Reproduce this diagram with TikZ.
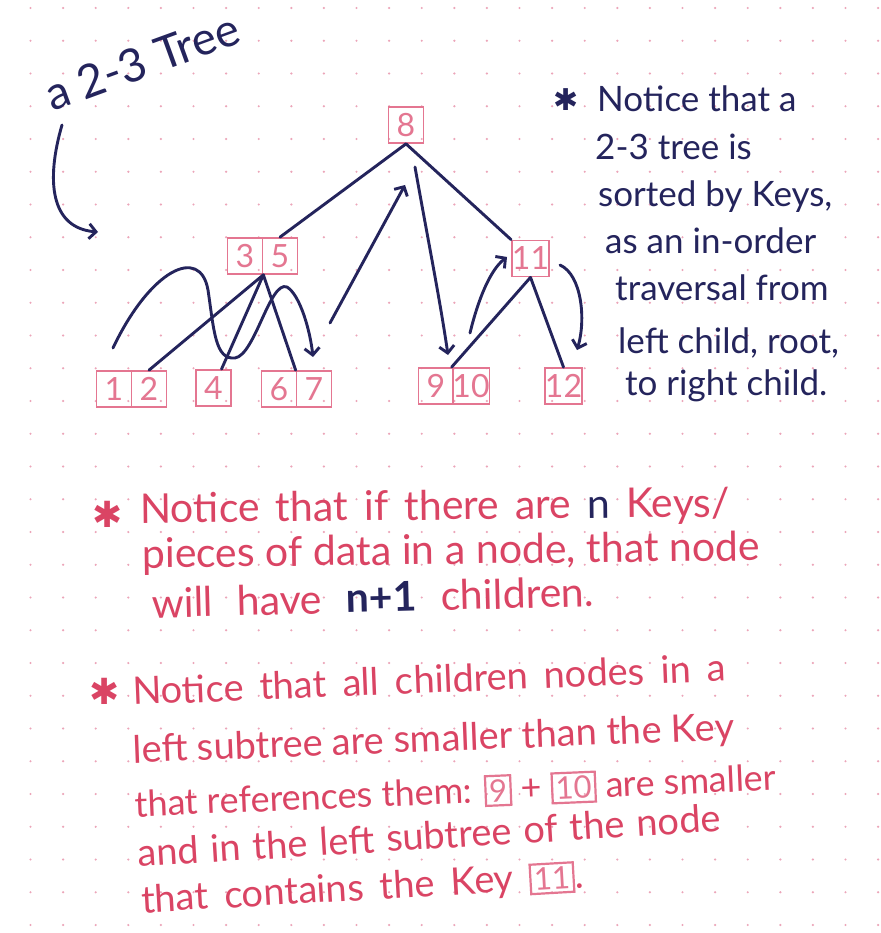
\documentclass[tikz,border=0pt]{standalone}
\usepackage{fontspec}
\setmainfont{Lato}
\newfontfamily\symfont{DejaVu Sans}
\usetikzlibrary{arrows.meta}
\definecolor{navy}{RGB}{36,36,92}
\definecolor{keypink}{RGB}{228,118,145}
\definecolor{inkred}{RGB}{218,68,100}
\definecolor{dotpink}{RGB}{236,165,185}
\newcommand\keyb[1]{{\color{keypink}\setlength\fboxsep{2.5pt}\setlength\fboxrule{2.2pt}\fbox{\fontsize{31}{31}\selectfont #1}}}
\newcommand\wsp[1]{\spaceskip=#1\relax}
\begin{document}
\begin{tikzpicture}[x=1pt,y=-1pt,
  cell/.style={draw=keypink, line width=1.7pt, text=keypink, minimum width=35pt, minimum height=36pt, inner sep=0pt, font=\fontsize{32}{32}\selectfont},
  edge/.style={navy, line width=2.9pt, line cap=round},
  trav/.style={navy, line width=2.9pt, line cap=round, line join=round, -{Straight Barb[length=7pt,width=15pt]}},
  redtxt/.style={text=inkred, font=\fontsize{41}{44}\selectfont, anchor=base west, inner sep=0pt},
  redtxtb/.style={text=inkred, font=\fontsize{38}{44}\selectfont, anchor=base west, inner sep=0pt},
  navytxt/.style={text=navy, font=\fontsize{35}{40}\selectfont, anchor=base west, inner sep=0pt},
  astnavy/.style={text=navy, font=\symfont\fontsize{30}{30}\selectfont, anchor=center, inner sep=0pt},
  astred/.style={text=inkred, font=\symfont\fontsize{36}{36}\selectfont, anchor=center, inner sep=0pt}]
\useasboundingbox (0,0) rectangle (880,933);
\fill[white] (0,0) rectangle (880,933);
% dot grid
\foreach \i in {0,...,26} {
  \foreach \j in {0,...,28} {
    \fill[dotpink] (30.5+32.6*\i, 8+32.75*\j) circle[radius=1.2pt];
  }
}
% title
\node[navytxt, font=\fontsize{46}{48}\selectfont, rotate=20] (title) at (52,112) {a 2-3 Tree};
\coordinate (ta) at (62,125);
\coordinate (tb) at (98,232);
\draw[trav] (ta) .. controls (46,180) and (50,228) .. (tb);
% tree nodes
\node[cell] (n8) at (406,125) {8};
\node[cell] (c3) at (245,256) {3};
\node[cell] (c5) at (280,256) {5};
\node[cell] (n11) at (530.5,258.5) {11};
\node[cell] (c1) at (114,389) {1};
\node[cell] (c2) at (149,389) {2};
\node[cell] (n4) at (213.5,388) {4};
\node[cell] (c6) at (279,389) {6};
\node[cell] (c7) at (314,389) {7};
\node[cell] (c9) at (436,386) {9};
\node[cell] (c10) at (471,386) {10};
\node[cell] (n12) at (563.5,386) {12};
% tree edges
\draw[edge] (n8.south) -- (c5.north);
\draw[edge] (n8.south) -- (n11.north west);
\draw[edge] (c3.south east) -- (c2.north);
\draw[edge] (c3.south east) -- ([xshift=8pt]n4.north);
\draw[edge] (c3.south east) -- (c7.north west);
\draw[edge] (n11.south) -- (c10.north west);
\draw[edge] (n11.south) -- (n12.north);
% traversal arrows
\coordinate (a1s) at (113,348);
\coordinate (a1e) at (313,357);
\draw[trav] (a1s) .. controls (150,270) and (200,245) .. (208,290)
   .. controls (214,330) and (215,360) .. (235,358)
   .. controls (255,355) and (270,280) .. (287,287)
   .. controls (300,295) and (310,330) .. (a1e);
\coordinate (a2s) at (330,323);
\coordinate (a2e) at (405,185);
\draw[trav] (a2s) -- (a2e);
\coordinate (a3s) at (415,167);
\coordinate (a3e) at (448,355);
\draw[trav] (a3s) .. controls (428,240) and (440,300) .. (a3e);
\coordinate (a4s) at (470,333);
\coordinate (a4e) at (507,257);
\draw[trav] (a4s) .. controls (478,300) and (490,270) .. (a4e);
\coordinate (a5s) at (560,265);
\coordinate (a5e) at (577,350);
\draw[trav] (a5s) .. controls (582,275) and (586,320) .. (a5e);
% right navy note
\node[astnavy] (ast0) at (566,100) {✱};
\node[navytxt] (r1) at (597,112) {Notice that a};
\node[navytxt] (r2) at (595,160) {2-3 tree is};
\node[navytxt] (r3) at (598,207) {sorted by Keys,};
\node[navytxt] (r4) at (605,253) {as an in-order};
\node[navytxt] (r5) at (615,300) {traversal from};
\node[navytxt] (r6) at (618,353) {left child, root,};
\node[navytxt] (r7) at (625,395) {to right child.};
% red note 1
\node[astred] (ast1) at (108,514) {✱};
\node[redtxt, rotate=0.6] (p1) at (140,523) {\wsp{16pt}Notice that if there are {\color{navy}n} Keys/};
\node[redtxt, rotate=0.7] (p2) at (142,568) {pieces of data in a node, that node};
\node[redtxt, rotate=1.5] (p3) at (152,618) {\wsp{24pt}will have {\color{navy}\bfseries n+1} children.};
% red note 2
\node[astred] (ast2) at (105,691) {✱};
\node[redtxtb, rotate=2.3] (q1) at (133,705) {\wsp{16pt}Notice that all children nodes in a};
\node[redtxtb, rotate=2.2] (q2) at (133,763) {left subtree are smaller than the Key};
\node[redtxtb, font=\fontsize{36}{44}\selectfont, rotate=2.4] (q3) at (135,817) {that references them: \keyb{9} + \keyb{10} are smaller};
\node[redtxtb, rotate=3.5] (q4) at (138,867) {\wsp{12pt}and in the left subtree of the node};
\node[redtxtb, rotate=3.3] (q5) at (142,913) {\wsp{16pt}that contains the Key \keyb{11}.};
\end{tikzpicture}
\end{document}
